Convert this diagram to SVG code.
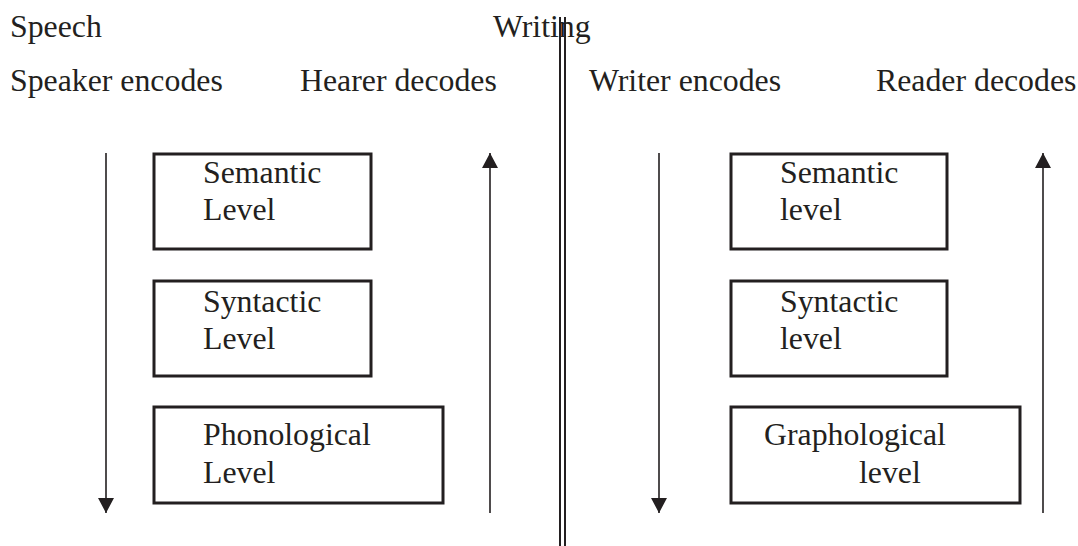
<svg xmlns="http://www.w3.org/2000/svg" width="1078" height="546" viewBox="0 0 1078 546">
<style>
text{font-family:"Liberation Serif","Times New Roman",serif;font-size:31.8px;fill:#231f20}
.box{fill:none;stroke:#231f20;stroke-width:3}
.arr{stroke:#231f20;stroke-width:1.6;fill:none}
.div{stroke:#231f20;stroke-width:2}
</style>
<defs>
<marker id="ah" viewBox="0 0 15 16" refX="15" refY="8" markerWidth="15" markerHeight="16" markerUnits="userSpaceOnUse" orient="auto">
<path d="M0,0 L15,8 L0,16 Z" fill="#231f20"/>
</marker>
</defs>
<g id="labels">
<text x="10" y="37">Speech</text>
<text x="493" y="37">Writing</text>
<text x="10" y="91">Speaker encodes</text>
<text x="300" y="91">Hearer decodes</text>
<text x="589" y="91">Writer encodes</text>
<text x="876" y="91">Reader decodes</text>
</g>
<g id="divider">
<line class="div" x1="560" y1="17" x2="560" y2="546"/>
<line class="div" x1="565" y1="17" x2="565" y2="546"/>
</g>
<g id="speech-semantic">
<rect class="box" x="154" y="154" width="217" height="95"/>
<text x="203" y="183">Semantic</text>
<text x="203" y="220">Level</text>
</g>
<g id="speech-syntactic">
<rect class="box" x="154" y="281" width="217" height="95"/>
<text x="203" y="312">Syntactic</text>
<text x="203" y="349">Level</text>
</g>
<g id="speech-phonological">
<rect class="box" x="154" y="407" width="289" height="96"/>
<text x="203" y="445">Phonological</text>
<text x="203" y="483">Level</text>
</g>
<g id="writing-semantic">
<rect class="box" x="731" y="154" width="216" height="95"/>
<text x="780" y="183">Semantic</text>
<text x="780" y="220">level</text>
</g>
<g id="writing-syntactic">
<rect class="box" x="731" y="281" width="216" height="95"/>
<text x="780" y="312">Syntactic</text>
<text x="780" y="349">level</text>
</g>
<g id="writing-graphological">
<rect class="box" x="731" y="407" width="289" height="96"/>
<text x="764" y="445">Graphological</text>
<text x="859" y="483">level</text>
</g>
<g id="connectors">
<line class="arr" x1="106" y1="153" x2="106" y2="513" marker-end="url(#ah)"/>
<line class="arr" x1="490" y1="513" x2="490" y2="153" marker-end="url(#ah)"/>
<line class="arr" x1="659" y1="153" x2="659" y2="513" marker-end="url(#ah)"/>
<line class="arr" x1="1043" y1="513" x2="1043" y2="153" marker-end="url(#ah)"/>
</g>
</svg>
